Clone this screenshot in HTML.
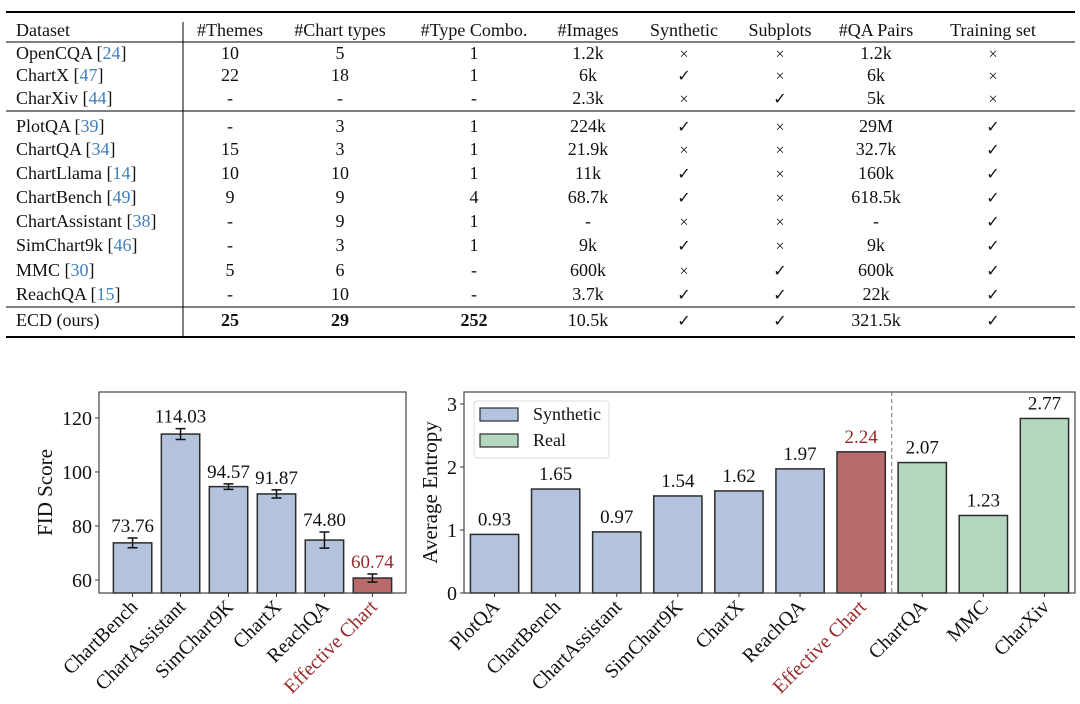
<!DOCTYPE html>
<html><head><meta charset="utf-8"><style>
html,body{margin:0;padding:0;background:#fff;}
svg{display:block;font-family:"Liberation Serif","DejaVu Serif",serif;}
</style></head><body>
<svg id="root" width="1080" height="704" viewBox="0 0 1080 704">
<g id="table"></g>
<g id="c1"></g>
<g id="c2"></g>
</svg>
<script>
// ---------- table data ----------
const tHeaders=["Dataset","#Themes","#Chart types","#Type Combo.","#Images","Synthetic","Subplots","#QA Pairs","Training set"];
const tNames=["OpenCQA","ChartX","CharXiv","PlotQA","ChartQA","ChartLlama","ChartBench","ChartAssistant","SimChart9k","MMC","ReachQA","ECD (ours)"];
const tRefs=["24","47","44","39","34","14","49","38","46","30","15",""];
const tRows=[
["10","5","1","1.2k","x","x","1.2k","x"],
["22","18","1","6k","v","x","6k","x"],
["-","-","-","2.3k","x","v","5k","x"],
["-","3","1","224k","v","x","29M","v"],
["15","3","1","21.9k","x","x","32.7k","v"],
["10","10","1","11k","v","x","160k","v"],
["9","9","4","68.7k","v","x","618.5k","v"],
["-","9","1","-","x","x","-","v"],
["-","3","1","9k","v","x","9k","v"],
["5","6","-","600k","x","v","600k","v"],
["-","10","-","3.7k","v","v","22k","v"],
["25","29","252","10.5k","v","v","321.5k","v"]];
// ---------- chart 1 data ----------
const fidCats=["ChartBench","ChartAssistant","SimChart9K","ChartX","ReachQA","Effective Chart"];
const fidVals=[73.76,114.03,94.57,91.87,74.80,60.74];
const fidErr=[1.8,2.0,1.0,1.5,3.0,1.5];
const fidLabels=["73.76","114.03","94.57","91.87","74.80","60.74"];
const fidTicks=[60,80,100,120];
// ---------- chart 2 data ----------
const entCats=["PlotQA","ChartBench","ChartAssistant","SimChart9K","ChartX","ReachQA","Effective Chart","ChartQA","MMC","CharXiv"];
const entVals=[0.93,1.65,0.97,1.54,1.62,1.97,2.24,2.07,1.23,2.77];
const entLabels=["0.93","1.65","0.97","1.54","1.62","1.97","2.24","2.07","1.23","2.77"];
const entKind=["s","s","s","s","s","s","e","r","r","r"];
const entTicks=[0,1,2,3];

const NS="http://www.w3.org/2000/svg";
function mk(parent,tag,attrs,text){const e=document.createElementNS(NS,tag);for(const k in attrs)e.setAttribute(k,attrs[k]);if(text!==undefined)e.textContent=text;parent.appendChild(e);return e;}
const BLUE="#b3c3dd",RED="#b96b6b",GREEN="#b6d7bf",EDGE="#2b2b2b",DARKRED="#9b2a2a";

// ---------- table ----------
(function(){
 const g=document.getElementById('table');
 const colX=[16,230,340,474,588,684,780,876,993];
 const rowY=[53,75,98,126,149,173,197,221,245,270,294,320];
 let l;
 l=mk(g,'line',{x1:6,x2:1075,y1:12,y2:12,stroke:'#000','stroke-width':2});
 
 l=mk(g,'line',{x1:6,x2:1075,y1:42,y2:42,stroke:'#000','stroke-width':1});
 
 l=mk(g,'line',{x1:6,x2:1075,y1:111,y2:111,stroke:'#000','stroke-width':1});
 
 l=mk(g,'line',{x1:6,x2:1075,y1:307,y2:307,stroke:'#000','stroke-width':1});
 
 l=mk(g,'line',{x1:6,x2:1075,y1:337,y2:337,stroke:'#000','stroke-width':2});
 
 l=mk(g,'line',{x1:183,x2:183,y1:22,y2:337,stroke:'#000','stroke-width':1});
 
 tHeaders.forEach((h,i)=>{
  const t=mk(g,'text',{x:colX[i],y:36,'font-size':18,'text-anchor':i?'middle':'start',fill:'#111'},h);
  
  
 });
 tNames.forEach((n,r)=>{
  const y=rowY[r]+6;
  const t=mk(g,'text',{x:16,y:y,'font-size':18,fill:'#111'});
  
  
  mk(t,'tspan',{},n+(tRefs[r]?' [':''));
  if(tRefs[r]){mk(t,'tspan',{fill:'#3f7fc0'},tRefs[r]);mk(t,'tspan',{},']');}
  tRows[r].forEach((v,c)=>{
   let s=v==='x'?'×':v==='v'?'✓':v;
   const bold=(r===11&&c<3);
   const tc=mk(g,'text',{x:colX[c+1],y:y,'font-size':(v==='x'||v==='v')?16:18,'text-anchor':'middle',fill:'#111','font-weight':bold?'bold':'normal','font-family':(v==='v')?'"DejaVu Sans",sans-serif':'"Liberation Serif",serif'},s);
   
   
  });
 });
})();

// ---------- chart 1 ----------
(function(){
 const g=document.getElementById('c1');
 const L=99,R=406,T=392,B=593,ymin=55.2,ymax=129.6,xmin=-0.7,xmax=5.7;
 const sx=v=>L+(v-xmin)/(xmax-xmin)*(R-L);
 const sy=v=>B-(v-ymin)/(ymax-ymin)*(B-T);
 const bw=0.8*(R-L)/(xmax-xmin);
 fidVals.forEach((v,i)=>{
  const r=mk(g,'rect',{x:sx(i)-bw/2,y:sy(v),width:bw,height:B-sy(v),fill:i===5?RED:BLUE,stroke:EDGE,'stroke-width':1.5});
  
  
  const e=mk(g,'path',{d:`M${sx(i)} ${sy(v+fidErr[i])}V${sy(v-fidErr[i])}M${sx(i)-5} ${sy(v+fidErr[i])}H${sx(i)+5}M${sx(i)-5} ${sy(v-fidErr[i])}H${sx(i)+5}`,stroke:'#111','stroke-width':1.5,fill:'none'});
  
  
  const t=mk(g,'text',{x:sx(i),y:sy(v+fidErr[i])-6,'font-size':19,'text-anchor':'middle',fill:i===5?DARKRED:'#111'},fidLabels[i]);
  
  
  const tk=mk(g,'line',{x1:sx(i),x2:sx(i),y1:B,y2:B+4,stroke:'#333'});
  
  
  const xl=mk(g,'text',{x:sx(i)+6,y:B+15,'font-size':20,'text-anchor':'end',transform:`rotate(-45 ${sx(i)+6} ${B+15})`,fill:i===5?DARKRED:'#111'},fidCats[i]);
  
  
 });
 fidTicks.forEach(v=>{
  const tk=mk(g,'line',{x1:L-4,x2:L,y1:sy(v),y2:sy(v),stroke:'#333'});
  
  
  const t=mk(g,'text',{x:L-7,y:sy(v)+7,'font-size':20,'text-anchor':'end',fill:'#111'},String(v));
  
  
 });
 const f=mk(g,'rect',{x:L,y:T,width:R-L,height:B-T,fill:'none',stroke:'#444','stroke-width':1.2});
 
 
 const yt=mk(g,'text',{x:52,y:(T+B)/2,'font-size':21,'text-anchor':'middle',transform:`rotate(-90 52 ${(T+B)/2})`,fill:'#111'},'FID Score');
 
 
})();

// ---------- chart 2 ----------
(function(){
 const g=document.getElementById('c2');
 const L=464,R=1075,T=392,B=593,ymin=0,ymax=3.19,xmin=-0.5,xmax=9.5;
 const sx=v=>L+(v-xmin)/(xmax-xmin)*(R-L);
 const sy=v=>B-(v-ymin)/(ymax-ymin)*(B-T);
 const bw=0.79*(R-L)/(xmax-xmin);
 const col={s:BLUE,e:RED,r:GREEN};
 entVals.forEach((v,i)=>{
  const r=mk(g,'rect',{x:sx(i)-bw/2,y:sy(v),width:bw,height:B-sy(v),fill:col[entKind[i]],stroke:EDGE,'stroke-width':1.5});
  
  
  const t=mk(g,'text',{x:sx(i),y:sy(v)-9,'font-size':19,'text-anchor':'middle',fill:entKind[i]==='e'?DARKRED:'#111'},entLabels[i]);
  
  
  const tk=mk(g,'line',{x1:sx(i),x2:sx(i),y1:B,y2:B+4,stroke:'#333'});
  
  
  const xl=mk(g,'text',{x:sx(i)+6,y:B+15,'font-size':20,'text-anchor':'end',transform:`rotate(-45 ${sx(i)+6} ${B+15})`,fill:entKind[i]==='e'?DARKRED:'#111'},entCats[i]);
  
  
 });
 const dl=mk(g,'line',{x1:sx(6.5),x2:sx(6.5),y1:T,y2:B,stroke:'#888','stroke-width':1.2,'stroke-dasharray':'4,3'});
 
 
 entTicks.forEach(v=>{
  const tk=mk(g,'line',{x1:L-4,x2:L,y1:sy(v),y2:sy(v),stroke:'#333'});
  
  
  const t=mk(g,'text',{x:L-7,y:sy(v)+7,'font-size':20,'text-anchor':'end',fill:'#111'},String(v));
  
  
 });
 const f=mk(g,'rect',{x:L,y:T,width:R-L,height:B-T,fill:'none',stroke:'#444','stroke-width':1.2});
 
 
 const yt=mk(g,'text',{x:437,y:(T+B)/2,'font-size':21,'text-anchor':'middle',transform:`rotate(-90 437 ${(T+B)/2})`,fill:'#111'},'Average Entropy');
 
 
 const lg=mk(g,'g',{});
 
 
 mk(lg,'rect',{x:474,y:401,width:135,height:57,rx:3,fill:'#fff',stroke:'#ddd'});
 const p1=mk(lg,'rect',{x:480,y:408,width:38,height:13,fill:BLUE,stroke:EDGE,'stroke-width':1.2});
 
 
 mk(lg,'text',{x:533,y:420,'font-size':18,fill:'#111'},'Synthetic');
 const p2=mk(lg,'rect',{x:480,y:434,width:38,height:13,fill:GREEN,stroke:EDGE,'stroke-width':1.2});
 
 
 mk(lg,'text',{x:533,y:446,'font-size':18,fill:'#111'},'Real');
})();
</script>
</body></html>
